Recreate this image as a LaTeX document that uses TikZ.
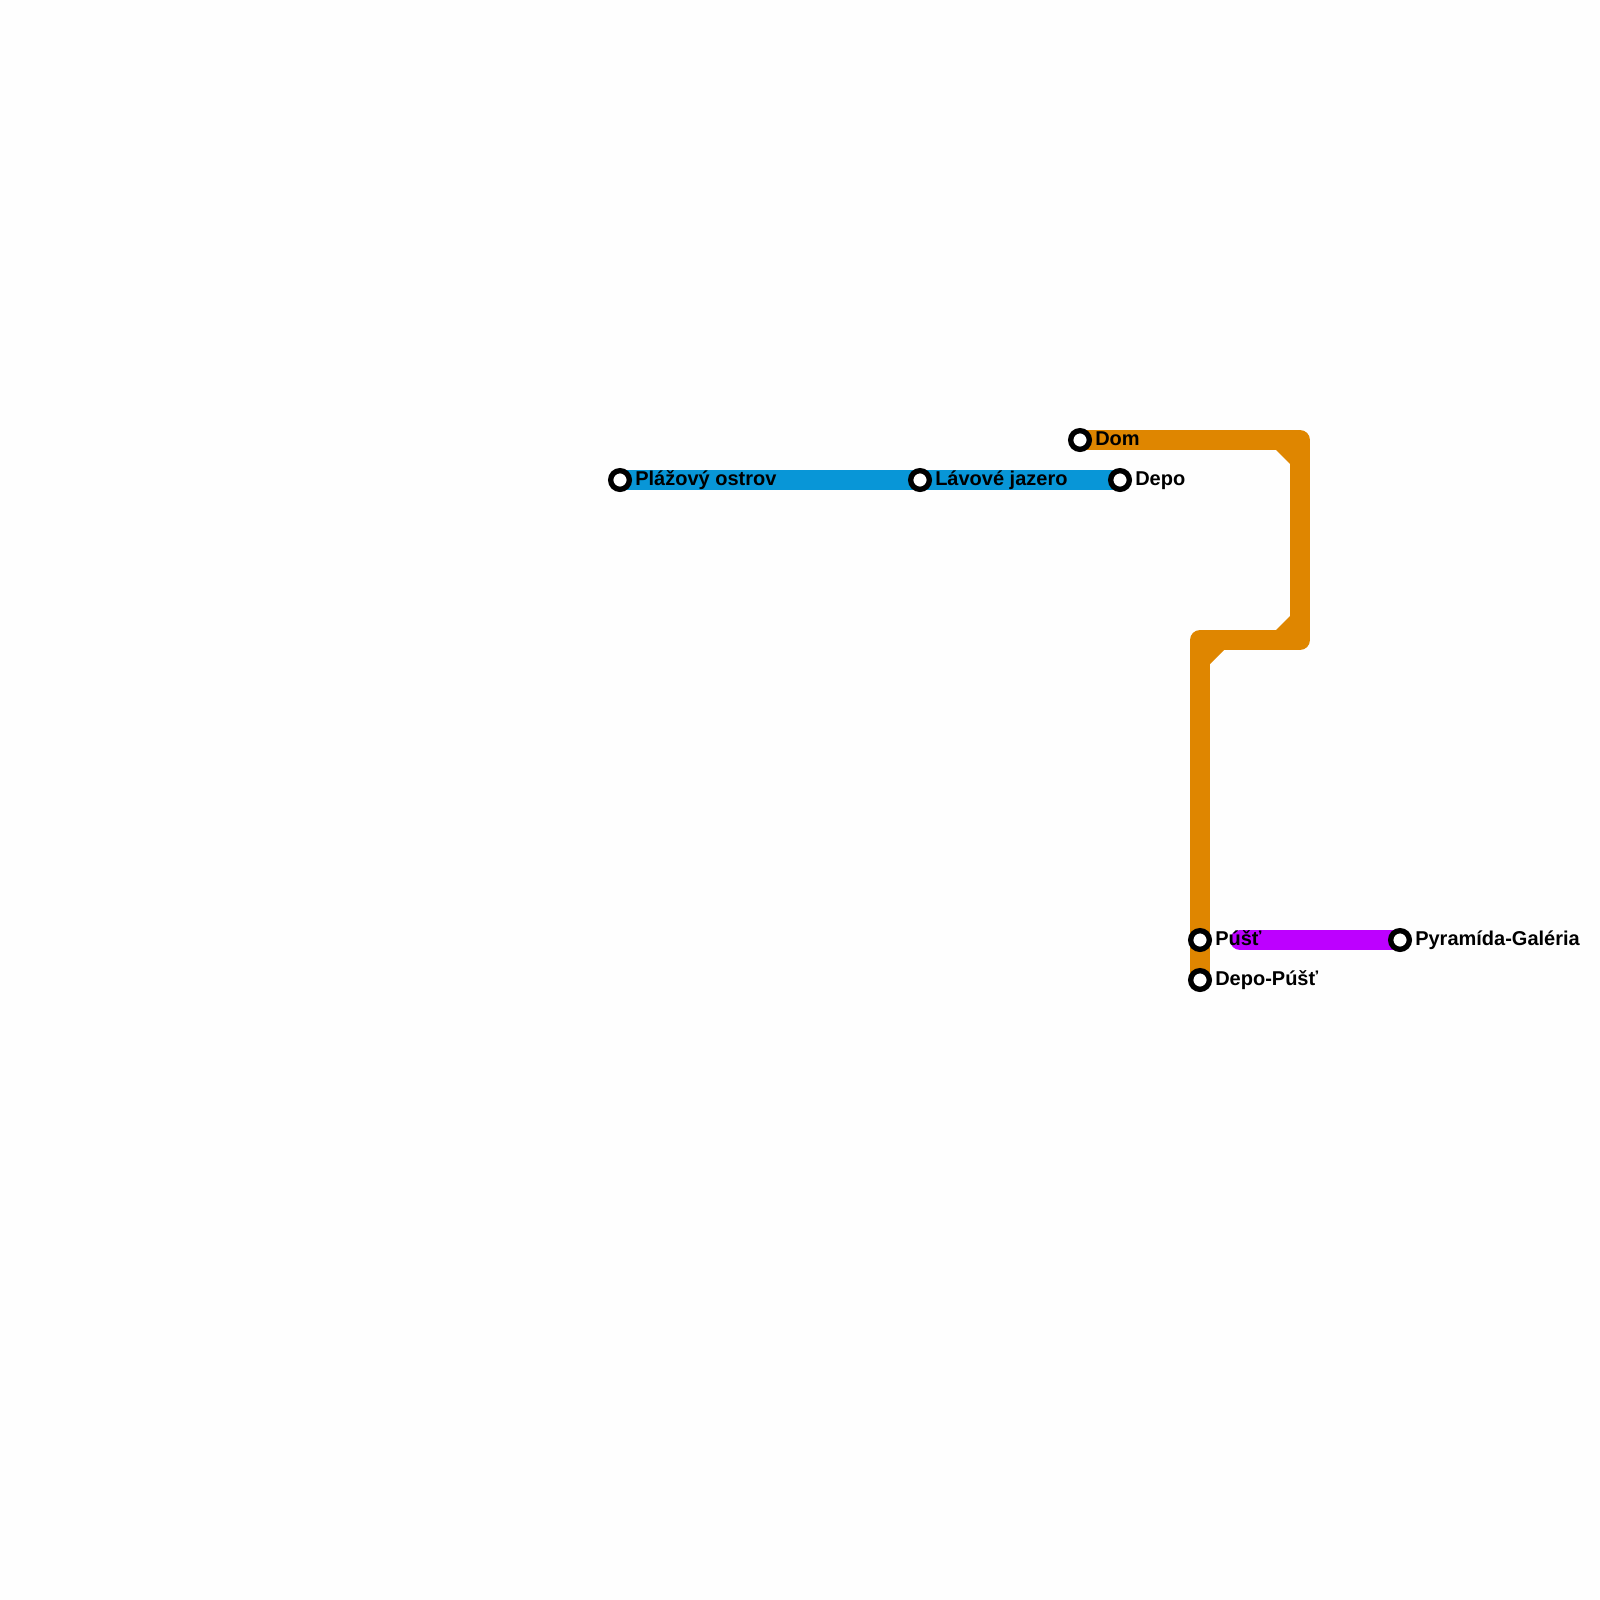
\documentclass[tikz,border=0pt]{standalone}
\usepackage{fontspec}
\setmainfont{Liberation Sans}
\usetikzlibrary{backgrounds}
\definecolor{orangeline}{HTML}{DF8600}
\definecolor{blueline}{HTML}{0896D7}
\definecolor{purpleline}{HTML}{BD00FF}
\definecolor{paper}{HTML}{FEFEFE}
\tikzset{
  x=0.75pt,y=-0.75pt,
  station/.style={circle,draw=black,fill=white,line width=4pt,outer sep=0pt,minimum size=14pt,inner sep=0pt},
  stationlabel/.style={anchor=base west,inner sep=0pt,font=\fontsize{15pt}{17pt}\selectfont\bfseries,text=black},
  metro/.style={line width=15pt,line join=round},
}
\begin{document}
\begin{tikzpicture}
\useasboundingbox (0,0) rectangle (1600,1600);
% stations
\node[station] (plaz) at (620,480) {};
\node[station] (lava) at (920,480) {};
\node[station] (depo) at (1120,480) {};
\node[station] (dom) at (1080,440) {};
\node[station] (pust) at (1200,940) {};
\node[station] (deppust) at (1200,980) {};
\node[station] (pyr) at (1400,940) {};
% labels
\node[stationlabel] (lplaz) at (635,485) {Plážový ostrov};
\node[stationlabel] (llava) at (935,485) {Lávové jazero};
\node[stationlabel] (ldepo) at (1135,485) {Depo};
\node[stationlabel] (ldom) at (1095,445) {Dom};
\node[stationlabel] (lpust) at (1215,945) {Púšť};
\node[stationlabel] (ldeppust) at (1215,985) {Depo-Púšť};
\node[stationlabel] (lpyr) at (1415,945) {Pyramída-Galéria};
% route waypoints
\coordinate (c1) at (1300,440);
\coordinate (c2) at (1300,640);
\coordinate (c3) at (1200,640);
\coordinate (pstart) at (1240,940);
\begin{scope}[on background layer]
  \fill[paper] (0,0) rectangle (1600,1600);
  \draw[metro,blueline] (plaz.center) -- (lava.center) -- (depo.center);
  \draw[metro,purpleline,line cap=round] (pstart) -- (pyr.center);
  \draw[metro,orangeline] (dom.center) -- (c1) -- (c2) -- (c3) -- (pust.center) -- (deppust.center);
  \fill[orangeline] (1276,450) -- (1290,450) -- (1290,464) -- cycle;
  \fill[orangeline] (1276,630) -- (1290,630) -- (1290,616) -- cycle;
  \fill[orangeline] (1224,650) -- (1210,650) -- (1210,664) -- cycle;
\end{scope}
\end{tikzpicture}
\end{document}
